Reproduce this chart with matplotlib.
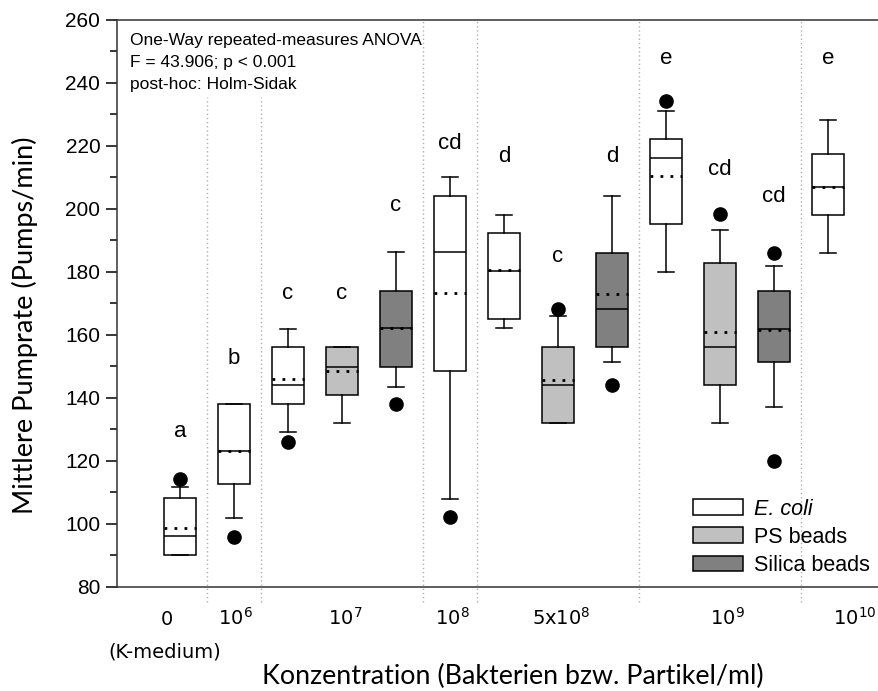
import matplotlib.pyplot as plt
from matplotlib.patches import Patch
import matplotlib.transforms as mtransforms

plt.rcParams['font.family'] = ['Liberation Sans', 'DejaVu Sans']

# one box per entry, left to right
material = ["E. coli", "E. coli", "E. coli", "PS beads", "Silica beads", "E. coli", "E. coli",
            "PS beads", "Silica beads", "E. coli", "PS beads", "Silica beads", "E. coli"]
q1 = [90, 112.6, 138, 140.9, 149.8, 148.6, 164.9, 131.9, 156, 195.1, 143.9, 151.4, 198]
median = [96.1, 123.1, 144, 149.8, 162, 186.2, 180.2, 143.9, 168.1, 216, 156, 161.7, 207]
q3 = [108.1, 138, 156, 156, 174, 204, 192.2, 156, 186, 222, 182.9, 174, 217.4]
mean = [98.7, 123, 145.8, 148.6, 162, 173.1, 180.5, 145.5, 172.8, 210.5, 161, 161.5, 207]
whisk_lo = [90, 101.9, 129, 131.9, 143.3, 107.9, 162, 131.9, 151.3, 180, 131.9, 137, 186]
whisk_hi = [111.6, 138, 161.9, 156, 186.2, 210, 198, 165.9, 204, 231, 193.2, 181.8, 228]
outliers = [[114.1], [95.9], [126], [], [138], [102], [], [168.1], [144], [234.2], [198.2], [186, 120], []]
letters = ["a", "b", "c", "c", "c", "cd", "d", "c", "d", "e", "cd", "cd", "e"]
letter_y = [129.2, 152.5, 173.1, 173.1, 201, 220.8, 216.5, 184.7, 216.5, 247.8, 212.4, 204, 247.8]

# concentration groups: label and position of label
conc_labels = ["0", "$10^6$", "$10^7$", "$10^8$", "$5\\mathrm{x}10^8$", "$10^9$", "$10^{10}$"]
conc_pos = [0.76, 2.02, 4.06, 6.04, 8.07, 11.13, 13.5]
separators = [1.5, 2.5, 5.5, 6.5, 9.5, 12.5]
sep_top = [235.5, 235.5, 260, 260, 260, 260]

colors = {"E. coli": "white", "PS beads": "#c0c0c0", "Silica beads": "#808080"}

fig = plt.figure(figsize=(8.79, 6.91), dpi=100)
ax = fig.add_axes([117 / 879, 104.3 / 691, 1 - 117 / 879, 567 / 691])

pos = list(range(1, len(q1) + 1))
stats = []
for i in range(len(q1)):
    stats.append(dict(med=median[i], q1=q1[i], q3=q3[i], mean=mean[i],
                      whislo=whisk_lo[i], whishi=whisk_hi[i], fliers=outliers[i]))

lw = 1.1
res = ax.bxp(stats, positions=pos, widths=0.61, capwidths=0.3, patch_artist=True,
             showmeans=True, meanline=True,
             boxprops=dict(edgecolor='black', linewidth=lw),
             medianprops=dict(color='black', linewidth=lw),
             meanprops=dict(color='black', linestyle=(0, (1, 2.6)), linewidth=2),
             whiskerprops=dict(color='black', linewidth=lw),
             capprops=dict(color='black', linewidth=lw),
             flierprops=dict(marker='o', markerfacecolor='black', markeredgecolor='black',
                             markersize=9.5))
for box, m in zip(res['boxes'], material):
    box.set_facecolor(colors[m])

for p, t, y in zip(pos, letters, letter_y):
    ax.text(p, y, t, ha='center', va='center', fontsize=16)

for s, top in zip(separators, sep_top):
    ax.plot([s, s], [75.2, top], color='#b0b0b0', linestyle=(0, (1, 2)), linewidth=1,
            clip_on=False, zorder=0)

ax.text(0.017, 0.977, "One-Way repeated-measures ANOVA\nF = 43.906; p < 0.001\npost-hoc: Holm-Sidak",
        transform=ax.transAxes, ha='left', va='top', fontsize=12.5, linespacing=1.6)

ax.set_xlim(-0.1667, 13.944)
ax.set_ylim(80, 260)
ax.set_yticks(range(80, 261, 20))
ax.set_yticks(range(90, 260, 20), minor=True)
ax.tick_params(axis='y', which='major', direction='out', length=8, width=lw, pad=4, labelsize=15)
ax.tick_params(axis='y', which='minor', direction='out', length=5, width=lw)
ax.set_xticks([])
for side in ['left', 'bottom', 'top']:
    ax.spines[side].set_linewidth(lw)
    ax.spines[side].set_color('#333333')
ax.spines['right'].set_visible(False)

trans = mtransforms.blended_transform_factory(ax.transData, ax.transAxes)
for p, t in zip(conc_pos, conc_labels):
    ax.text(p, -0.068, t, transform=trans, ha='center', va='baseline', fontsize=14,
            family='DejaVu Sans')
ax.text(0.71, -0.124, "(K-medium)", transform=trans, ha='center', va='baseline', fontsize=14,
        family='DejaVu Sans')

fig.text(513 / 879, 1 - 676 / 691, "Konzentration (Bakterien bzw. Partikel/ml)",
         ha='center', va='center', fontsize=19.3, family='Lato')
fig.text(25 / 879, 1 - 325 / 691, "Mittlere Pumprate (Pumps/min)", rotation=90,
         ha='center', va='center', fontsize=19.5, family='Lato')

handles = [Patch(facecolor=colors[k], edgecolor='black', linewidth=lw) for k in colors]
leg = ax.legend(handles, list(colors), loc='lower left',
                bbox_to_anchor=(0.756, 0.019), frameon=False, fontsize=15.5, borderpad=0,
                handlelength=2.3, handleheight=0.75, handletextpad=0.55, labelspacing=0.33,
                borderaxespad=0)
leg.get_texts()[0].set_fontstyle('italic')

fig.savefig("out.png", dpi=100)
